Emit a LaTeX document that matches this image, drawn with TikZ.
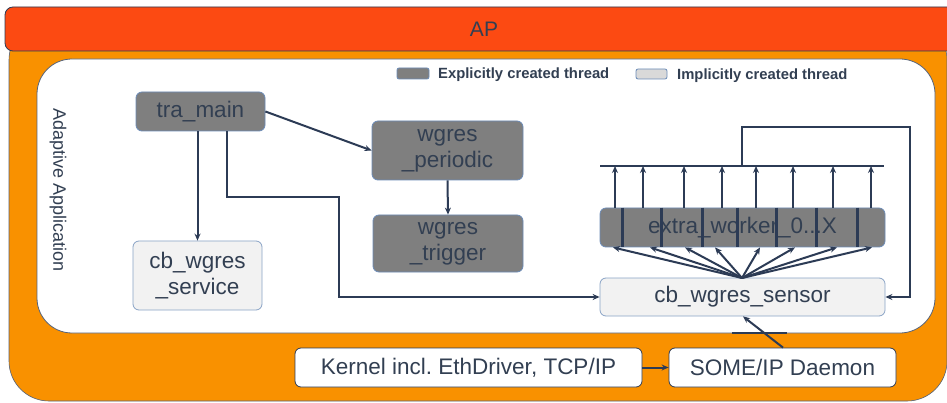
\documentclass[tikz,border=0pt]{standalone}
\usepackage{fontspec}
\setmainfont{Liberation Sans}
\usetikzlibrary{arrows.meta,calc}
\definecolor{apred}{HTML}{FC4A12}
\definecolor{orng}{HTML}{F99100}
\definecolor{txt}{HTML}{323F52}
\definecolor{lncol}{HTML}{2C3B55}
\definecolor{dgray}{HTML}{7F7F7F}
\definecolor{lgray}{HTML}{F2F2F2}
\definecolor{leggray}{HTML}{D9D9D9}
\definecolor{bbord}{HTML}{6C8CB8}
\begin{document}
\frenchspacing
\begin{tikzpicture}[x=1pt,y=-1pt,
 box/.style={draw=bbord, line width=0.8pt, rounded corners=6pt, inner sep=0pt, text=txt, font=\fontsize{22.5}{26}\selectfont, align=center},
 dark/.style={box, fill=dgray},
 light/.style={box, fill=lgray, draw=bbord!80},
 wbox/.style={box, fill=white, draw=lncol},
 arr/.style={draw=lncol, line width=2pt, -{Stealth[length=7pt,width=6pt]}},
 lnst/.style={draw=lncol, line width=2pt},
 sep/.style={draw=lncol, line width=3pt},
 legtxt/.style={anchor=west, text=txt, inner sep=0pt, font=\bfseries\fontsize{14.8}{16}\selectfont}]
\useasboundingbox[fill=white] (0,0) rectangle (947,403);
% containers
\draw[fill=orng, draw=lncol!80, line width=0.6pt, rounded corners=40pt] (9,20) rectangle (947,401);
\draw[fill=apred, draw=lncol, line width=0.8pt, rounded corners=8pt] (5,7) rectangle (970,51);
\node[text=txt, font=\fontsize{21}{24}\selectfont] (ap) at (484,29) {AP};
\draw[fill=white, draw=lncol!80, line width=0.8pt, rounded corners=35pt] (37,59) rectangle (935,333);
\draw[lnst] (732,333) -- (787,333);
\node[rotate=-90, text=txt, font=\fontsize{18}{20}\selectfont] (aa) at (58,190) {Adaptive Application};
% legend
\draw[fill=dgray, draw=bbord, line width=0.8pt, rounded corners=2pt] (397,68) rectangle (429,79);
\node[legtxt] (l1) at (438,75) {Explicitly created thread};
\draw[fill=leggray, draw=bbord, line width=0.8pt, rounded corners=2pt] (636,69) rectangle (667,79);
\node[legtxt] (l2) at (677,76) {Implicitly created thread};
% nodes
\node[dark, minimum width=129pt, minimum height=39pt] (tra) at (200.5,111.5) {tra\_main};
\node[dark, minimum width=151pt, minimum height=59pt] (per) at (447.5,150.5) {wgres\\\_periodic};
\node[dark, minimum width=150pt, minimum height=57pt] (trig) at (448,243.5) {wgres\\\_trigger};
\node[light, minimum width=129pt, minimum height=69pt] (svc) at (197.5,275.5) {cb\_wgres\\\_service};
\node[dark, minimum width=285pt, minimum height=39pt] (xw) at (742.5,227.5) {extra\_worker\_0...X};
\node[light, minimum width=285pt, minimum height=38pt] (sensor) at (742.5,297) {cb\_wgres\_sensor};
\node[wbox, minimum width=347pt, minimum height=39pt] (kern) at (468.5,367.5) {Kernel incl. EthDriver, TCP/IP};
\node[wbox, minimum width=227pt, minimum height=39pt] (daemon) at (782.5,367.5) {SOME/IP Daemon};
% separators inside extra workers
\foreach \x in {622,661,702,737,776,816,857}
  \draw[sep] (xw.north -| \x,0) -- (xw.south -| \x,0);
% connectors
\draw[arr] (tra.east) -- (per.west);
\draw[arr] (per.south) -- (trig.north);
\draw[arr] (tra.south -| svc.north) -- (svc.north);
\coordinate (t1) at (227,197);
\coordinate (t2) at (339,297);
\draw[arr] (tra.south -| t1) -- (t1) -| (t2) -- (sensor.west);
\coordinate (fan) at (742,278);
\foreach \x in {613,650,685,715,760,795,837,872}
  \draw[arr] (fan) -- (xw.south -| \x,0);
\coordinate (barL) at (600,166);
\coordinate (barR) at (884,166);
\draw[lnst] (barL) -- (barR);
\foreach \x in {615,643,684,722,756,793,833,871}
  \draw[arr] (xw.north -| \x,0) -- (barL -| \x,0);
\coordinate (fbA) at (742,127);
\coordinate (fbB) at (910,127);
\draw[arr] (barL -| fbA) -- (fbA) -- (fbB) |- (sensor.east);
\draw[arr] (daemon.north -| 783,0) -- (sensor.south -| 743,0);
\draw[arr] (kern.east) -- (daemon.west);
\end{tikzpicture}
\end{document}
